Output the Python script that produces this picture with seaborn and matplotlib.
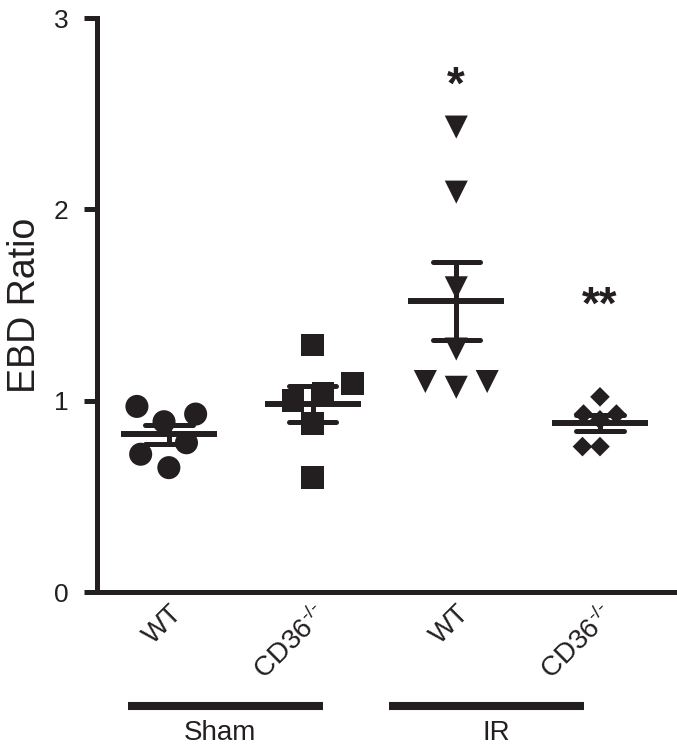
import matplotlib
matplotlib.use('Agg')
import matplotlib.pyplot as plt
import numpy as np
import pandas as pd
import seaborn as sns

sns.set_style('ticks')
plt.rcParams['font.family'] = ['Liberation Sans', 'DejaVu Sans']
plt.rcParams['mathtext.fontset'] = 'custom'
plt.rcParams['mathtext.rm'] = 'Liberation Sans'
plt.rcParams['mathtext.it'] = 'Liberation Sans:italic'

# groups, in plot order
groups = ['Sham WT', 'Sham CD36', 'IR WT', 'IR CD36']
tick_labels = ['WT', 'CD36$^{\\text{-/-}}$', 'WT', 'CD36$^{\\text{-/-}}$']

# EBD ratio per animal
sham_wt = [0.93, 0.89, 0.97, 0.78, 0.72, 0.65]
sham_cd36 = [1.29, 1.09, 1.00, 1.04, 0.88, 0.60]
ir_wt = [2.43, 2.09, 1.59, 1.27, 1.10, 1.07, 1.10]
ir_cd36 = [1.02, 0.93, 0.93, 0.90, 0.76, 0.76]

stars = ['', '', '*', '**']
star_y = [0, 0, 2.64, 1.49]

conditions = ['Sham', 'IR']

values = [sham_wt, sham_cd36, ir_wt, ir_cd36]
df = pd.DataFrame({
    'group': np.repeat(groups, [len(v) for v in values]),
    'ratio': np.concatenate(values),
})

markers = ['o', 's', 'v', 'D']
msizes = [16.6, 16.3, 16.6, 10.0]
spread = [5.0, 5.0, 5.0, 2.0]
ink = '#231f20'

fig = plt.figure(figsize=(6.77, 7.53), dpi=100)
ax = fig.add_axes([97 / 677, 1 - 592 / 753, 1 - 97 / 677, (592 - 18) / 753])

for g, m, s, lw in zip(groups, markers, msizes, spread):
    sns.swarmplot(data=df[df['group'] == g], x='group', y='ratio', order=groups,
                  marker=m, size=s, color=ink, edgecolor='none',
                  linewidth=lw, ax=ax)

# mean +/- SEM
sns.pointplot(data=df, x='group', y='ratio', order=groups, errorbar='se',
              capsize=0.33, marker='_', markersize=69, markeredgewidth=4.3,
              linestyle='none', color=ink, err_kws={'linewidth': 3.6},
              ax=ax)

for i, s in enumerate(stars):
    if s:
        ax.text(i, star_y[i], s, ha='center', va='center', fontsize=33,
                fontweight='bold', color=ink)

ax.set_xlim(-0.5, 3.536)
ax.set_ylim(0, 3)
ax.set_yticks([0, 1, 2, 3])
ax.set_xticks(range(len(groups)))
ax.set_xticklabels(tick_labels, rotation=45, ha='right', rotation_mode='anchor',
                   fontsize=20)
ax.set_xlabel('')
ax.set_ylabel('EBD Ratio', fontsize=27, labelpad=8, color=ink)
ax.tick_params(axis='y', labelsize=19, length=9.4, width=3.6, pad=11,
               color=ink, labelcolor=ink)
ax.tick_params(axis='x', length=0, pad=6, labelcolor=ink)
for side in ['top', 'right']:
    ax.spines[side].set_visible(False)
for side in ['left', 'bottom']:
    ax.spines[side].set_linewidth(3.6)
    ax.spines[side].set_color(ink)
    ax.spines[side].set_capstyle('projecting')

# condition bars under the tick labels
trans = ax.get_xaxis_transform()
bar_x = [(-0.285, 1.07), (1.53, 2.89)]
label_x = [0.355, 2.28]
for c, (x0, x1), lx in zip(conditions, bar_x, label_x):
    ax.plot([x0, x1], [-0.199, -0.199], color=ink, lw=5.8,
            solid_capstyle='butt', transform=trans, clip_on=False)
    ax.text(lx, -0.246, c, ha='center', va='center', fontsize=20,
            color=ink, transform=trans)

fig.savefig('out.png', dpi=100)
